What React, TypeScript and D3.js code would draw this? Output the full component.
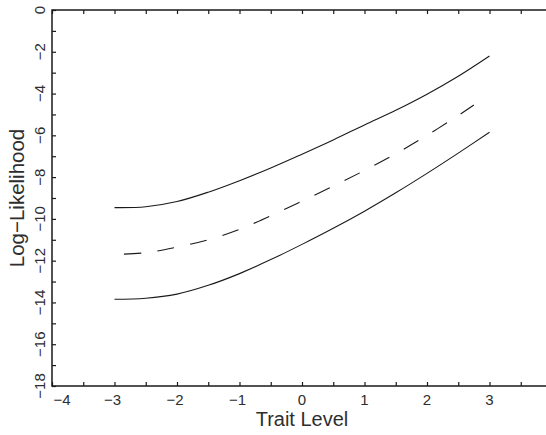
import * as d3 from "d3";
import { useEffect, useRef } from "react";

const chartWidth = 546;
const chartHeight = 435;
const margin = { left: 52, top: 10, right: -6, bottom: 49 };

const traitLevels = [-3, -2.5, -2, -1.5, -1, -0.5, 0, 0.5, 1, 1.5, 2, 2.5, 3];
const upperLL = [-9.46, -9.42, -9.17, -8.72, -8.17, -7.56, -6.9, -6.22, -5.5, -4.8, -4.03, -3.17, -2.2];
const lowerLL = [-13.85, -13.8, -13.6, -13.18, -12.62, -11.95, -11.22, -10.45, -9.63, -8.75, -7.82, -6.85, -5.85];
const middleLevels = [-3, -2.5, -2, -1.5, -1, -0.5, 0, 0.5, 1, 1.5, 2, 2.5, 2.75];
const middleLL = [-11.7, -11.62, -11.35, -11.0, -10.5, -9.85, -9.15, -8.43, -7.68, -6.88, -6.0, -5.05, -4.55];

const xTicks = [-4, -3, -2, -1, 0, 1, 2, 3];
const yTicks = [0, -2, -4, -6, -8, -10, -12, -14, -16, -18];
const xMinorTicks = d3.range(-4, 4.01, 0.5);
const yMinorTicks = d3.range(-18, 0.01, 1);

const FONT = "'Liberation Sans', Arial, sans-serif";
const INK = "#1a1a1a";
const TEXT_INK = "#2e2e2e";

const App = () => {
  const svgRef = useRef<SVGSVGElement | null>(null);

  useEffect(() => {
    const svg = d3.select(svgRef.current);
    svg.selectAll("*").remove();

    const width = chartWidth - margin.left - margin.right;
    const height = chartHeight - margin.top - margin.bottom;

    const xScale = d3.scaleLinear().domain([-4, 4]).range([0, width]);
    const yScale = d3.scaleLinear().domain([-18, 0]).range([height, 0]);

    const g = svg
      .append("g")
      .attr("transform", `translate(${margin.left}, ${margin.top})`);

    // frame
    g.append("rect")
      .attr("width", width)
      .attr("height", height)
      .attr("fill", "none")
      .attr("stroke", INK)
      .attr("stroke-width", 1.5);

    // inward ticks on bottom, top, left
    const bottomAxis = g
      .append("g")
      .attr("transform", `translate(0, ${height})`)
      .call(d3.axisBottom(xScale).tickValues(xMinorTicks).tickSize(-4).tickFormat(() => ""));
    const topAxis = g
      .append("g")
      .call(d3.axisTop(xScale).tickValues(xMinorTicks).tickSize(-4).tickFormat(() => ""));
    const leftAxis = g
      .append("g")
      .call(d3.axisLeft(yScale).tickValues(yMinorTicks).tickSize(-4).tickFormat(() => ""));
    [bottomAxis, topAxis, leftAxis].forEach((a) => {
      a.select(".domain").remove();
      a.selectAll("line").attr("stroke", INK).attr("stroke-width", 1.2);
    });

    // x tick labels
    g.append("g")
      .selectAll("text")
      .data(xTicks)
      .join("text")
      .attr("x", (d) => Math.max(xScale(d) - (d < 0 ? 2 : 0), 10))
      .attr("y", height + 19)
      .attr("text-anchor", "middle")
      .attr("font-family", FONT)
      .attr("font-size", 15)
      .attr("fill", TEXT_INK)
      .text((d) => (d < 0 ? `\u2212${-d}` : `${d}`));

    // y tick labels (rotated)
    g.append("g")
      .selectAll("text")
      .data(yTicks)
      .join("text")
      .attr("transform", (d) => `translate(-7, ${yScale(d)}) rotate(-90)`)
      .attr("text-anchor", "middle")
      .attr("font-family", FONT)
      .attr("font-size", 15)
      .attr("fill", TEXT_INK)
      .text((d) => (d < 0 ? `\u2212${-d}` : `${d}`));

    // axis titles
    g.append("text")
      .attr("x", xScale(0))
      .attr("y", height + 40)
      .attr("text-anchor", "middle")
      .attr("font-family", FONT)
      .attr("font-size", 20)
      .attr("fill", TEXT_INK)
      .text("Trait Level");

    g.append("text")
      .attr("transform", `translate(-28, ${height / 2}) rotate(-90)`)
      .attr("text-anchor", "middle")
      .attr("font-family", FONT)
      .attr("font-size", 20.5)
      .attr("fill", TEXT_INK)
      .text("Log\u2212Likelihood");

    const line = d3
      .line<[number, number]>()
      .x((d) => xScale(d[0]))
      .y((d) => yScale(d[1]))
      .curve(d3.curveCatmullRom.alpha(0.5));

    const curves = [
      { pts: traitLevels.map((t, i) => [t, upperLL[i]] as [number, number]), dash: null },
      { pts: traitLevels.map((t, i) => [t, lowerLL[i]] as [number, number]), dash: null },
      { pts: middleLevels.map((t, i) => [t, middleLL[i]] as [number, number]), dash: "17,16.5" },
    ];

    g.append("g")
      .selectAll("path")
      .data(curves)
      .join("path")
      .attr("fill", "none")
      .attr("stroke", INK)
      .attr("stroke-width", 1.1)
      .attr("stroke-dasharray", (d) => d.dash)
      .attr("stroke-dashoffset", (d) => (d.dash ? 24 : null))
      .attr("d", (d) => line(d.pts));
  }, []);

  return (
    <svg
      ref={svgRef}
      width={chartWidth}
      height={chartHeight}
      style={{ position: "absolute", left: 0, top: 0, background: "#fff" }}
    />
  );
};

export default App;
